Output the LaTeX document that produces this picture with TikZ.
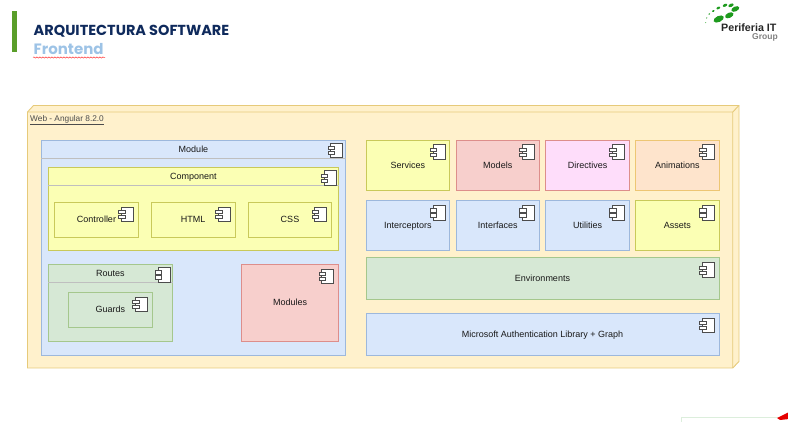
\documentclass[tikz,border=0pt]{standalone}
\usepackage{fontspec}
\setmainfont{Liberation Sans}
\newfontfamily\titlefont{Poppins}
\usetikzlibrary{positioning,decorations.pathmorphing}
\definecolor{bluefill}{HTML}{D9E7FB}
\definecolor{blueline}{HTML}{9DB8DC}
\definecolor{yellowfill}{HTML}{FBFFB4}
\definecolor{yellowline}{HTML}{C9C95A}
\definecolor{redfill}{HTML}{F7CFCC}
\definecolor{redline}{HTML}{DD8E8B}
\definecolor{pinkfill}{HTML}{FEDDFA}
\definecolor{pinkline}{HTML}{DD8E8B}
\definecolor{orangefill}{HTML}{FEE4CC}
\definecolor{orangeline}{HTML}{EDC673}
\definecolor{greenfill}{HTML}{D6E8D5}
\definecolor{greenline}{HTML}{A5C78D}
\definecolor{webfill}{HTML}{FFF1CC}
\definecolor{webline}{HTML}{E6CA7A}
\definecolor{titleblue}{HTML}{0F2A5C}
\definecolor{subblue}{HTML}{9DC3E6}
\definecolor{logogreen}{HTML}{1E9A1E}
\definecolor{barcolor}{HTML}{5A9E2A}
\definecolor{footline}{HTML}{DCEEDC}
\tikzset{
    comp/.style={draw=#1line,fill=#1fill,line width=0.9pt,inner sep=0pt,outer sep=0pt,font=\fontsize{9}{10}\selectfont,text=black!90,text height=6.2pt,text depth=0pt},
    comp/.default=blue,
    head/.style={inner sep=0pt,outer sep=0pt,font=\fontsize{9}{10}\selectfont,text=black!90,text height=6.2pt,text depth=0pt},
    headline/.style={draw=black!25,line width=0.9pt},
    compicon/.pic={
        \draw[black!70,fill=white,line width=0.5pt] (-12,0) rectangle (0,14.7);
        \draw[black!70,fill=white,line width=0.5pt] (-14.8,3.4) rectangle (-8.2,6.6);
        \draw[black!70,fill=white,line width=0.5pt] (-14.8,8.4) rectangle (-8.2,11.6);
    }
}
\begin{document}
\begin{tikzpicture}[x=1pt,y=-1pt]
    \useasboundingbox (0,0) rectangle (788,422);
    % title
    \fill[barcolor] (12,11) rectangle (17,52);
    \node[anchor=west,inner sep=0pt,text=titleblue,font=\titlefont\bfseries\fontsize{14.5}{15}\selectfont] (title) at (33.5,31.5) {ARQUITECTURA SOFTWARE};
    \node[anchor=west,inner sep=0pt,text=subblue,font=\titlefont\bfseries\fontsize{15}{15}\selectfont] (subtitle) at (33.5,49) {Frontend};
    \draw[red!80,line width=0.5pt,decorate,decoration={snake,amplitude=0.6pt,segment length=3pt}] (33,57.5) -- (105,57.5);
    % logo
    \foreach \px/\py/\rx/\ry in {718.7/19/5.5/3,729.3/15.3/4.5/2.6,735.3/9/4.2/2.4,731/5.3/2.8/1.6,725/5.3/2.4/1.4,718.3/8/2/1.2,713.3/11/1.5/1,709.3/14/1/.7,706.7/18/.7/.6,705.7/22.7/.5/.5}
        \fill[logogreen,rotate around={25:(\px,\py)}] (\px,\py) ellipse [x radius=\rx,y radius=\ry];
    \node[anchor=west,inner sep=0pt,text=black!85,font=\bfseries\fontsize{10.7}{12}\selectfont] (logotext) at (721,27.5) {Periferia IT};
    \node[anchor=west,inner sep=0pt,text=black!50,font=\bfseries\fontsize{8.5}{10}\selectfont] (logogroup) at (752,37) {Group};
    % web box
    \draw[webline,fill=webfill,line width=0.9pt] (27.5,112) -- (33.5,105.5) -- (739,105.5) -- (739,361.5) -- (732.7,368) -- (27.5,368) -- cycle;
    \draw[webline,line width=0.9pt] (27.5,112) -- (732.7,112) -- (732.7,368) (732.7,112) -- (739,105.5);
    \node[anchor=west,inner sep=0pt,font=\fontsize{8.3}{10}\selectfont,text=black!70] (web) at (30,120) {\underline{Web - Angular 8.2.0}};
    % left side
    \node[comp,minimum width=304.4pt,minimum height=215pt] (module) at (193.5,247.5) {};
    \node[head,minimum width=304.4pt,minimum height=18pt] (modulehead) at (193.5,149) {Module};
    \draw[headline] (modulehead.south west) -- (modulehead.south east);
    \node[comp=yellow,minimum width=290.7pt,minimum height=83pt] (component) at (193.4,209.2) {};
    \node[head,minimum width=290.7pt,minimum height=18.3pt] (componenthead) at (193.4,176.8) {Component};
    \draw[headline] (componenthead.south west) -- (componenthead.south east);
    \node[comp=yellow,minimum width=83.6pt,minimum height=34.7pt] (controller) at (96.5,219.7) {Controller};
    \node[comp=yellow,minimum width=83.6pt,minimum height=34.7pt] (html) at (193.2,219.7) {HTML};
    \node[comp=yellow,minimum width=83.4pt,minimum height=34.7pt] (css) at (290,219.7) {CSS};
    \node[comp=green,minimum width=124.7pt,minimum height=76.7pt] (routes) at (110.4,302.7) {};
    \node[head,minimum width=124.7pt,minimum height=18.4pt] (routeshead) at (110.4,273.5) {Routes};
    \draw[headline] (routeshead.south west) -- (routeshead.south east);
    \node[comp=green,minimum width=83.3pt,minimum height=35pt] (guards) at (110.4,309.8) {Guards};
    \node[comp=red,minimum width=97pt,minimum height=76.7pt] (modules) at (290.2,302.7) {Modules};
    % right side
    \node[comp=yellow,minimum width=83.7pt,minimum height=50pt] (services) at (407.9,165) {Services};
    \node[comp=red,minimum width=83.4pt,minimum height=50pt,right=6.3pt of services] (models) {Models};
    \node[comp=pink,minimum width=83.6pt,minimum height=50pt,right=6.3pt of models] (directives) {Directives};
    \node[comp=orange,minimum width=83.4pt,minimum height=50pt,right=6.3pt of directives] (animations) {Animations};
    \node[comp,minimum width=83.7pt,minimum height=50.3pt] (interceptors) at (407.9,225.8) {Interceptors};
    \node[comp,minimum width=83.4pt,minimum height=50.3pt,right=6.3pt of interceptors] (interfaces) {Interfaces};
    \node[comp,minimum width=83.6pt,minimum height=50.3pt,right=6.3pt of interfaces] (utilities) {Utilities};
    \node[comp=yellow,minimum width=83.4pt,minimum height=50.3pt,right=6.3pt of utilities] (assets) {Assets};
    \node[comp=green,minimum width=353pt,minimum height=42pt] (environments) at (542.5,278.7) {Environments};
    \node[comp,minimum width=353pt,minimum height=41.7pt] (msal) at (542.5,334.2) {Microsoft Authentication Library + Graph};
    % icons
    \foreach \name in {services,models,directives,animations,interceptors,interfaces,utilities,assets,environments,msal,controller,html,css,modules,guards}
        \pic at ([xshift=-5pt,yshift=-4.7pt]\name.north east) {compicon};
    \foreach \name in {modulehead,componenthead,routeshead}
        \pic at ([xshift=-3pt,yshift=-3pt]\name.north east) {compicon};
    % footer piece
    \draw[footline,line width=0.9pt] (681,422.5) -- (681,417) -- (778,417);
    \fill[red!90!black] (777,418) -- (789,412) -- (789,419) -- (780,420) -- cycle;
\end{tikzpicture}
\end{document}
